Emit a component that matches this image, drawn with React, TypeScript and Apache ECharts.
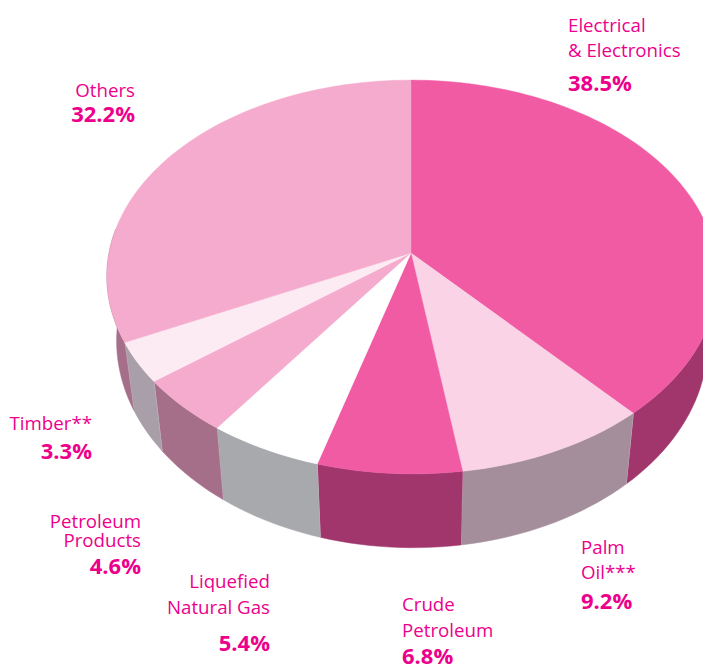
import React, { useEffect, useRef } from "react";
import * as echarts from "echarts";

const categories = [
  "Electrical & Electronics",
  "Palm Oil***",
  "Crude Petroleum",
  "Liquefied Natural Gas",
  "Petroleum Products",
  "Timber**",
  "Others",
];
const shares = [38.5, 9.2, 6.8, 5.4, 4.6, 3.3, 32.2];
const percentLabels = shares.map((v) => v.toFixed(1) + "%");
const topColors = ["#f15ba3", "#fad3e6", "#f15ba3", "#ffffff", "#f5abcd", "#fdebf3", "#f5abcd"];
const wallColors = ["#a0366c", "#a58e9b", "#a0366c", "#a8a9ad", "#a56f8a", "#a99fa8", "#a56f8a"];

const TEXT = "#ec008c";
const FONT = '"Open Sans", "Noto Sans", sans-serif';

// perspective disc
const APEX_X = 411, APEX_Y = 253, RX = 303, RY = 194, K = 0.1218, SHEAR = 1;
const WALL_FROM = 22, WALL_TO = 77;
const project = (pct: number) => {
  const t = (pct / 100) * 2 * Math.PI;
  const u = Math.sin(t), v = Math.cos(t);
  const w = 1 + K * v;
  return [APEX_X + (RX * u) / w + SHEAR * (1 - v), APEX_Y - (RY * v) / w];
};
const lower = (p: number[]) => [APEX_X + 0.968 * (p[0] - APEX_X), 1.047 * p[1] + 51.5];

const arc = (from: number, to: number) => {
  const n = Math.max(2, Math.ceil((to - from) * 2));
  const pts: number[][] = [];
  for (let i = 0; i <= n; i++) pts.push(project(from + ((to - from) * i) / n));
  return pts;
};
const startOf = (i: number) => shares.slice(0, i).reduce((a, b) => a + b, 0);

const labelLayout = [
  { lines: ["Electrical", "& Electronics"], ys: [24, 49], py: 82, x: 568, align: "left" },
  { lines: ["Palm", "Oil***"], ys: [546, 571], py: 600, x: 581, align: "left" },
  { lines: ["Crude", "Petroleum"], ys: [603, 629], py: 655, x: 402, align: "left" },
  { lines: ["Liquefied", "Natural Gas"], ys: [580, 606], py: 642, x: 270, align: "right" },
  { lines: ["Petroleum", "Products"], ys: [520, 539], py: 565, x: 141, align: "right" },
  { lines: ["Timber**"], ys: [422], py: 450, x: 92, align: "right" },
  { lines: ["Others"], ys: [89], py: 113, x: 135, align: "right" },
];

export default function App() {
  const ref = useRef<HTMLDivElement>(null);
  useEffect(() => {
    const chart = echarts.init(ref.current!, undefined, { renderer: "svg" });
    const graphics: any[] = [];
    labelLayout.forEach((l, i) => {
      l.lines.forEach((line, j) => {
        graphics.push({
          type: "text", x: l.x, y: l.ys[j], z: 10,
          style: { text: line, fill: TEXT, font: `400 18.7px ${FONT}`, textAlign: l.align, textVerticalAlign: "middle" },
        });
      });
      graphics.push({
        type: "text", x: l.x, y: l.py, z: 10,
        style: { text: percentLabels[i], fill: TEXT, font: `700 22px ${FONT}`, textAlign: l.align, textVerticalAlign: "middle" },
      });
    });
    const data = shares.map((v, i) => ({ name: categories[i], value: v }));
    chart.setOption({
      animation: false,
      backgroundColor: "#ffffff",
      graphic: graphics,
      series: [
        {
          type: "custom", coordinateSystem: "none", z: 1, silent: true, data,
          renderItem: (params: any) => {
            const i = params.dataIndex;
            const s = startOf(i);
            const from = Math.max(s, WALL_FROM);
            const to = Math.min(s + shares[i], WALL_TO);
            const top = arc(from, to);
            const bottom = top.map(lower).reverse();
            const end = top[top.length - 1];
            const children: any[] = [
              { type: "polygon", shape: { points: [...top, ...bottom] }, style: { fill: wallColors[i], stroke: wallColors[i], lineWidth: 0.5 } },
            ];
            if (s + shares[i] <= WALL_TO) {
              children.push({ type: "line", shape: { x1: end[0], y1: end[1], x2: lower(end)[0], y2: lower(end)[1] }, style: { stroke: "#e4dde2", lineWidth: 0.8 } });
            }
            return { type: "group", children };
          },
        },
        {
          type: "custom", coordinateSystem: "none", z: 2, silent: true, data,
          renderItem: (params: any) => {
            const i = params.dataIndex;
            const s = startOf(i);
            const points = [[APEX_X, APEX_Y], ...arc(s, s + shares[i])];
            return { type: "polygon", shape: { points }, style: { fill: topColors[i], stroke: topColors[i], lineWidth: 0.4 } };
          },
        },
      ],
    });
    return () => chart.dispose();
  }, []);
  return <div ref={ref} style={{ position: "absolute", left: 0, top: 0, width: 703, height: 666, overflow: "hidden" }} />;
}
